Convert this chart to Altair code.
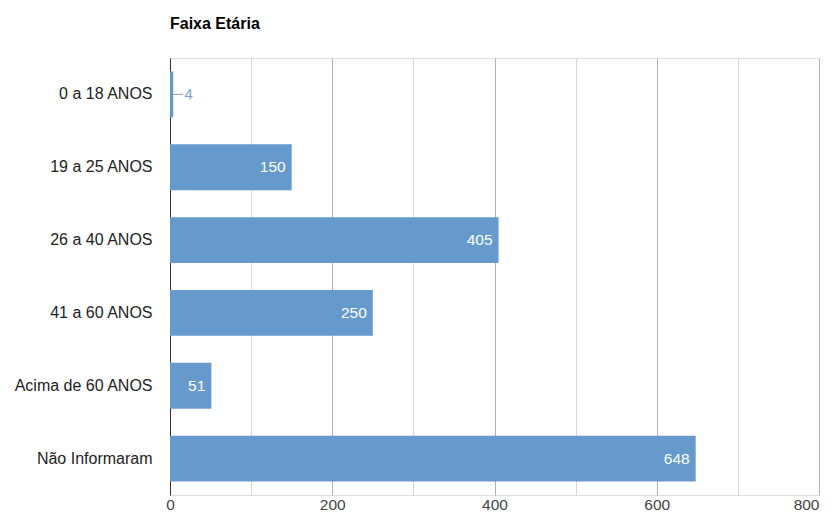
import altair as alt
import pandas as pd

categories = ["0 a 18 ANOS", "19 a 25 ANOS", "26 a 40 ANOS", "41 a 60 ANOS",
              "Acima de 60 ANOS", "Não Informaram"]
values = [4, 150, 405, 250, 51, 648]
x_ticks = [0, 100, 200, 300, 400, 500, 600, 700, 800]

df = pd.DataFrame({"cat": categories, "value": values})
df["inside"] = df["value"] >= 30

FONT = "Liberation Sans"
BAR = "#6699cc"

y_enc = alt.Y("cat:N", sort=categories, title=None,
              scale=alt.Scale(paddingInner=0.37, paddingOuter=0.185),
              axis=alt.Axis(ticks=False, grid=False, domain=True, domainColor="#333333",
                            domainWidth=1, labelPadding=18, labelFontSize=16,
                            labelColor="#222222", labelFont=FONT))
x_enc = alt.X("value:Q", title=None,
              scale=alt.Scale(domain=[0, 800], nice=False),
              axis=alt.Axis(values=x_ticks, labelExpr="datum.value % 200 == 0 ? datum.label : ''",
                            domain=False, ticks=False, labelPadding=2, labelFontSize=15.5,
                            labelColor="#444444", labelFont=FONT,
                            labelAlign=alt.condition("datum.value == 800", alt.value("right"), alt.value("center")),
                            gridColor=alt.condition("datum.value % 200 == 0", alt.value("#b0b0b0"), alt.value("#d6d6d6")),
                            gridWidth=1))

base = alt.Chart(df)

bars = base.mark_bar(color=BAR).encode(y=y_enc, x=x_enc)

text_in = base.transform_filter("datum.inside").mark_text(
    align="right", baseline="middle", dx=-6, color="white", fontSize=15.5, font=FONT
).encode(y=alt.Y("cat:N", sort=categories), x="value:Q", text="value:Q")

leader = base.transform_filter("!datum.inside").mark_rule(
    color="#999999", strokeWidth=1, x2Offset=10
).encode(y=alt.Y("cat:N", sort=categories), x="value:Q", x2="value:Q")

text_out = base.transform_filter("!datum.inside").mark_text(
    align="left", baseline="middle", dx=11, color="#7aa3d4", fontSize=15.5, font=FONT
).encode(y=alt.Y("cat:N", sort=categories), x="value:Q", text="value:Q")

chart = alt.layer(bars, text_in, leader, text_out).properties(
    width=649, height=437,
    autosize=alt.AutoSizeParams(type="none"),
    padding={"left": 162, "top": 50, "right": 11, "bottom": 20},
    title=alt.TitleParams("Faixa Etária", anchor="start", frame="group", fontSize=16,
                          fontWeight="bold", font=FONT, color="#000000", offset=26),
).configure_view(stroke=None).configure(background="white")

chart.save("out.html", embed_options={"renderer": "svg", "actions": False})
